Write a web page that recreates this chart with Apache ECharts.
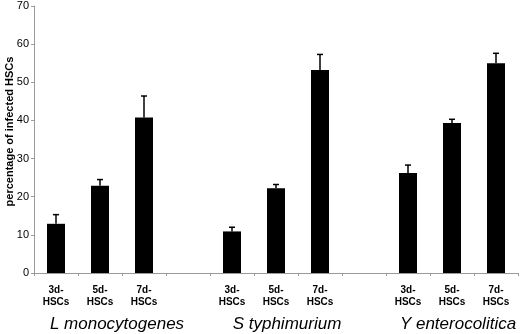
<!DOCTYPE html>
<html>
<head>
<meta charset="utf-8">
<script src="https://cdn.jsdelivr.net/npm/echarts@6/dist/echarts.min.js"></script>
<style>
  html, body { margin: 0; padding: 0; background: #fff; }
  #chart { width: 520px; height: 334px; }
</style>
</head>
<body>
<div id="chart"></div>
<script>
// categories (empty slots separate the three groups)
const categories = ['3d-\nHSCs', '5d-\nHSCs', '7d-\nHSCs', '',
                    '3d-\nHSCs', '5d-\nHSCs', '7d-\nHSCs', '',
                    '3d-\nHSCs', '5d-\nHSCs', '7d-\nHSCs'];
const groupLabels = ['', 'L monocytogenes', '', '', '', 'S typhimurium', '', '', '', 'Y enterocolitica', ''];
const means = [12.9, 22.9, 40.8, null, 10.9, 22.2, 53.2, null, 26.2, 39.3, 55.0];
const errors = [2.4, 1.6, 5.6, null, 1.1, 1.0, 4.1, null, 2.1, 1.0, 2.6];
const yTicks = { min: 0, max: 70, interval: 10 };

const chart = echarts.init(document.getElementById('chart'));

const errData = means.map((m, i) => m == null ? null : [i, m, m + errors[i]]).filter(d => d);

// group names sit a little right of the middle bar in the original
const gStyle = pad => ({
    fontSize: 17, fontStyle: 'italic', fontWeight: 'normal', color: '#000',
    lineHeight: 32, padding: [0, 0, 0, pad]
});

chart.setOption({
    animation: false,
    textStyle: { fontFamily: 'Liberation Sans, Arial, sans-serif' },
    grid: { left: 34, right: 2, top: 6, bottom: 61, containLabel: false, outerBoundsMode: 'none' },
    xAxis: {
        type: 'category',
        data: categories,
        axisLine: { lineStyle: { color: '#9a9a9a', width: 1 } },
        axisTick: { show: true, length: 3, lineStyle: { color: '#9a9a9a' } },
        axisLabel: {
            interval: 0, color: '#000', fontSize: 10, fontWeight: 'bold',
            lineHeight: 12, margin: 11,
            formatter: function (value, index) {
                const g = groupLabels[index];
                return g ? value + '\n{g' + index + '|' + g + '}' : value;
            },
            rich: { g1: gStyle(34), g5: gStyle(22), g9: gStyle(12) }
        }
    },
    yAxis: {
        type: 'value',
        min: yTicks.min, max: yTicks.max, interval: yTicks.interval,
        name: 'percentage of infected HSCs',
        nameLocation: 'middle',
        nameGap: 19,
        nameMoveOverlap: false,
        nameTextStyle: { color: '#000', fontSize: 11, fontWeight: 'bold', padding: [0, 0, 0, 16] },
        axisLine: { show: true, lineStyle: { color: '#9a9a9a' } },
        axisTick: { show: true, length: 3, lineStyle: { color: '#9a9a9a' } },
        axisLabel: { color: '#000', fontSize: 11, margin: 5 },
        splitLine: { show: false }
    },
    series: [
        {
            type: 'bar',
            data: means,
            barWidth: 18,
            itemStyle: { color: '#000' }
        },
        {
            type: 'custom',
            data: errData,
            encode: { x: 0, y: [1, 2] },
            renderItem: function (params, api) {
                const base = api.coord([api.value(0), api.value(1)]);
                const top = api.coord([api.value(0), api.value(2)]);
                return {
                    type: 'group',
                    children: [
                        { type: 'line', shape: { x1: base[0], y1: base[1], x2: top[0], y2: top[1] },
                          style: { stroke: '#000', lineWidth: 1.5 } },
                        { type: 'line', shape: { x1: top[0] - 3, y1: top[1], x2: top[0] + 3, y2: top[1] },
                          style: { stroke: '#000', lineWidth: 1.5 } }
                    ]
                };
            },
            z: 3
        }
    ]
});
</script>
</body>
</html>
